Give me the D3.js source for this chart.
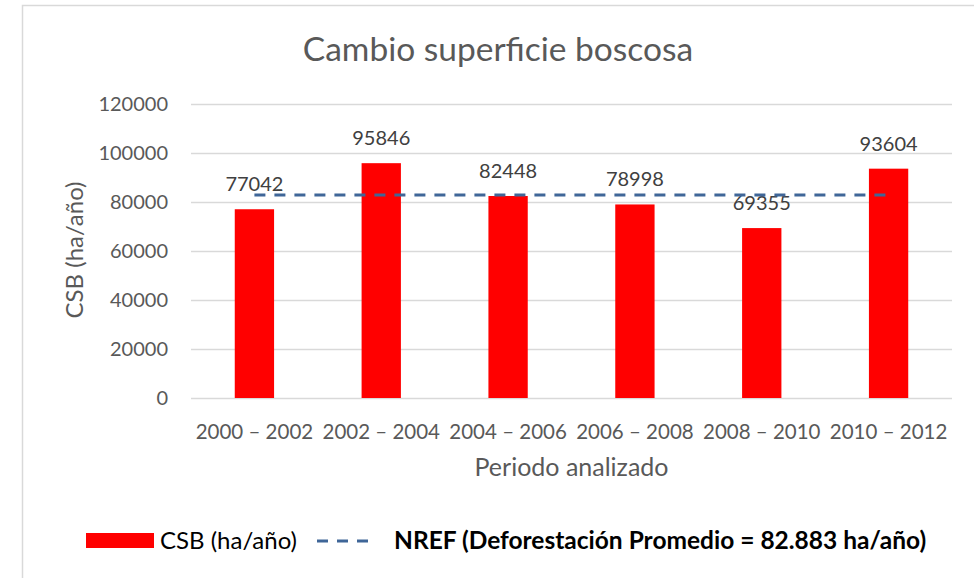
<!DOCTYPE html>
<html><head><meta charset="utf-8">
<script src="https://cdn.jsdelivr.net/npm/d3@7"></script>
<style>body{margin:0;background:#fff}svg{display:block}</style>
</head><body>
<svg id="c" width="974" height="578"></svg>
<script>
const categories = ["2000 – 2002","2002 – 2004","2004 – 2006","2006 – 2008","2008 – 2010","2010 – 2012"];
const csbValues = [77042, 95846, 82448, 78998, 69355, 93604];
const nrefValues = [82883, 82883, 82883, 82883, 82883, 82883];
const yTicks = [0, 20000, 40000, 60000, 80000, 100000, 120000];

const svg = d3.select("#c");
const FONT = "Lato, 'Open Sans', sans-serif";
const m = {left:191, right:952, top:104, bottom:398};

svg.append("rect").attr("x",22.5).attr("y",5.5).attr("width",1000).attr("height",1000)
  .attr("fill","#fff").attr("stroke","#d9d9d9").attr("stroke-width",1.5);

const x = d3.scaleBand().domain(categories).range([m.left, m.right]).paddingInner(0.69).paddingOuter(0.345);
const y = d3.scaleLinear().domain([0,120000]).range([m.bottom, m.top]);

// gridlines
const yAxis = d3.axisLeft(y).tickValues(yTicks).tickSize(-(m.right-m.left)).tickPadding(23).tickFormat(d3.format("d"));
const gy = svg.append("g").attr("transform",`translate(${m.left},0)`).call(yAxis);
gy.select(".domain").remove();
gy.selectAll(".tick line").attr("stroke","#d9d9d9").attr("stroke-width",1.3);
gy.selectAll(".tick text").attr("fill","#595959").style("font-family",FONT).style("font-size","20px");

// x axis
const xAxis = d3.axisBottom(x).tickSize(0).tickPadding(26);
const gx = svg.append("g").attr("transform",`translate(0,${m.bottom})`).call(xAxis);
gx.select(".domain").remove();
gx.selectAll(".tick text").attr("fill","#595959").style("font-family",FONT).style("font-size","20.5px");

// bars
svg.append("g").selectAll("rect").data(csbValues).join("rect")
  .attr("x",(d,i)=>x(categories[i])).attr("width",x.bandwidth())
  .attr("y",d=>y(d)).attr("height",d=>y(0)-y(d)).attr("fill","#ff0000");

// labels
svg.append("g").selectAll("text").data(csbValues).join("text")
  .attr("x",(d,i)=>x(categories[i])+x.bandwidth()/2).attr("y",d=>y(d)-18)
  .attr("text-anchor","middle").attr("fill","#404040")
  .style("font-family",FONT).style("font-size","20px").text(d=>d);

// NREF line
const line = d3.line().x((d,i)=>x(categories[i])+x.bandwidth()/2).y(d=>y(d));
svg.append("path").datum(nrefValues).attr("d",line).attr("fill","none")
  .attr("stroke","#3f6698").attr("stroke-width",3).attr("stroke-dasharray","11,9");

// title
svg.append("text").attr("x",498).attr("y",61).attr("text-anchor","middle")
  .attr("fill","#595959").style("font-family",FONT).style("font-size","33.5px").text("Cambio superficie boscosa");

// axis titles
svg.append("text").attr("x",571.5).attr("y",476).attr("text-anchor","middle")
  .attr("fill","#595959").style("font-family",FONT).style("font-size","25px").text("Periodo analizado");
svg.append("text").attr("transform",`translate(75,250) rotate(-90)`).attr("text-anchor","middle")
  .attr("dy","0.35em")
  .attr("fill","#595959").style("font-family",FONT).style("font-size","24px").text("CSB (ha/año)");

// legend
const lg = svg.append("g");
lg.append("rect").attr("x",86).attr("y",533).attr("width",68).attr("height",15).attr("fill","#ff0000");
lg.append("text").attr("x",160).attr("y",549).attr("fill","#000")
  .style("font-family",FONT).style("font-size","24px").text("CSB (ha/año)");
lg.append("line").attr("x1",317).attr("x2",375).attr("y1",541).attr("y2",541)
  .attr("stroke","#3f6698").attr("stroke-width",3).attr("stroke-dasharray","11,9");
lg.append("text").attr("x",394).attr("y",549).attr("fill","#000").style("font-weight","bold")
  .style("font-family",FONT).style("font-size","24.5px").text("NREF (Deforestación Promedio = 82.883 ha/año)");
</script>
</body></html>
